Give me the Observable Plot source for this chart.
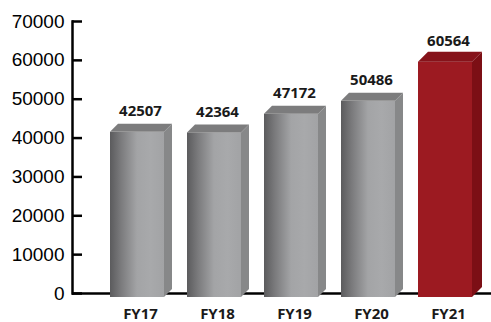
<!DOCTYPE html>
<html><head><meta charset="utf-8">
<script src="https://cdn.jsdelivr.net/npm/d3@7"></script>
<script src="https://cdn.jsdelivr.net/npm/@observablehq/plot@0.6"></script>
<style>body{margin:0;background:#fff}</style>
</head><body><div id="chart"></div>
<script>
const categories = ["FY17", "FY18", "FY19", "FY20", "FY21"];
const values = [42507, 42364, 47172, 50486, 60564];
const yTicks = [0, 10000, 20000, 30000, 40000, 50000, 60000, 70000];
const highlight = "FY21";

const data = categories.map((c, i) => ({cat: c, value: values[i]}));

const faceColors = {
  gray: {side: "#878889", top: "#7c7c7d"},
  red: {side: "#7c0f15", top: "#86131a"}
};

const chart = Plot.plot({
  width: 491, height: 322,
  marginLeft: 72, marginRight: 0, marginTop: 21, marginBottom: 29,
  style: {fontFamily: "'Liberation Sans', Arial, sans-serif", background: "white", color: "#000"},
  x: {domain: categories, range: [109, 472], paddingInner: 0.3, paddingOuter: 0, label: null},
  y: {domain: [0, 70000], label: null},
  color: {type: "identity"},
  marks: [
    Plot.ruleY([0], {stroke: "black", strokeWidth: 2.5}),
    Plot.frame({anchor: "left", stroke: "black", strokeWidth: 2.5}),
    Plot.axisY({ticks: yTicks, tickSize: 10, dx: 10, tickPadding: 8, fontSize: 19, strokeWidth: 2.5, stroke: "black", fill: "black", tickFormat: d => String(d), label: null}),
    Plot.axisX({tickSize: 0, tickPadding: 15, fontSize: 15, fontWeight: "bold", fontFamily: "'Open Sans', sans-serif", fill: "#1a1a1a", dx: 3, label: null}),
    Plot.barY(data, {x: "cat", y: "value", dy: 4, fill: d => d.cat === highlight ? "#9c1a21" : "url(#grayFront)", className: "front"}),
    Plot.text(data, {x: "cat", y: "value", text: d => String(d.value), dy: -12, dx: 3, lineAnchor: "bottom", fontSize: 15, fontWeight: "bold", fontFamily: "'Open Sans', sans-serif", fill: "#1a1a1a"})
  ]
});

document.getElementById("chart").appendChild(chart);

// gradient for the grey front faces
const svg = d3.select(chart);
const defs = svg.insert("defs", ":first-child");
const grad = defs.append("linearGradient").attr("id", "grayFront")
  .attr("x1", 0).attr("x2", 1).attr("y1", 0).attr("y2", 0);
[["0%", "#5b5b5d"], ["20%", "#7a7a7c"], ["50%", "#a3a4a6"], ["75%", "#a8a9ab"], ["100%", "#a2a3a5"]]
  .forEach(([o, c]) => grad.append("stop").attr("offset", o).attr("stop-color", c));

// 3D side and top faces derived from the rendered front rects
const group = chart.querySelector(".front");
const rects = Array.from(chart.querySelectorAll(".front rect"));
rects.forEach((r, i) => {
  const x = +r.getAttribute("x"), y = +r.getAttribute("y");
  const w = +r.getAttribute("width"), h = +r.getAttribute("height");
  const isHi = data[i].cat === highlight;
  const c = isHi ? faceColors.red : faceColors.gray;
  const d = isHi ? 10 : 8;
  const g = d3.select(group);
  g.append("polygon")
    .attr("points", [[x + w, y], [x + w + d, y - d], [x + w + d, y + h - d], [x + w, y + h]].map(p => p.join(",")).join(" "))
    .attr("fill", c.side);
  g.append("polygon")
    .attr("points", [[x, y], [x + d, y - d], [x + w + d, y - d], [x + w, y]].map(p => p.join(",")).join(" "))
    .attr("fill", c.top);
});
</script>
</body></html>
